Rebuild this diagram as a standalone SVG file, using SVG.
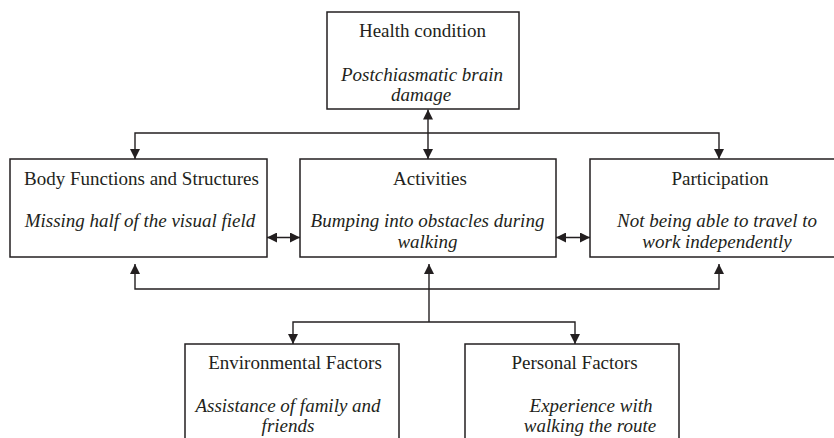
<svg xmlns="http://www.w3.org/2000/svg" width="834" height="438" viewBox="0 0 834 438">
<style>
.box{fill:#fff;stroke:#231f20;stroke-width:1.5}
.t{font-family:"Liberation Serif","Times New Roman",serif;font-size:19px;fill:#231f20;text-anchor:middle}
.i{font-style:italic}
.c{fill:none;stroke:#231f20;stroke-width:1.4}
</style>
<defs>
<marker id="ah" viewBox="0 0 10 10" refX="10" refY="5" markerWidth="10" markerHeight="10" markerUnits="userSpaceOnUse" orient="auto-start-reverse">
<path d="M0,0 L10,5 L0,10 z" fill="#231f20"/>
</marker>
</defs>
<rect width="834" height="438" fill="#fff"/>
<g id="health">
<rect class="box" x="327" y="12" width="192" height="97"/>
<text class="t" x="422.5" y="37">Health condition</text>
<text class="t i" x="422" y="81">Postchiasmatic brain</text>
<text class="t i" x="421" y="101">damage</text>
</g>
<g id="body">
<rect class="box" x="10" y="159" width="257" height="98"/>
<text class="t" x="141.5" y="185">Body Functions and Structures</text>
<text class="t i" x="140" y="227">Missing half of the visual field</text>
</g>
<g id="activities">
<rect class="box" x="300" y="159" width="256" height="98"/>
<text class="t" x="430" y="185">Activities</text>
<text class="t i" x="427.5" y="227">Bumping into obstacles during</text>
<text class="t i" x="427.5" y="248">walking</text>
</g>
<g id="participation">
<rect class="box" x="590" y="159" width="262" height="98"/>
<text class="t" x="720" y="185">Participation</text>
<text class="t i" x="717" y="227">Not being able to travel to</text>
<text class="t i" x="717" y="248">work independently</text>
</g>
<g id="environmental">
<rect class="box" x="185" y="344" width="214" height="110"/>
<text class="t" x="295" y="369">Environmental Factors</text>
<text class="t i" x="288" y="412">Assistance of family and</text>
<text class="t i" x="288" y="432">friends</text>
</g>
<g id="personal">
<rect class="box" x="465" y="344" width="214" height="110"/>
<text class="t" x="574.5" y="369">Personal Factors</text>
<text class="t i" x="591" y="412">Experience with</text>
<text class="t i" x="590" y="432">walking the route</text>
</g>
<g id="connectors">
<line class="c" x1="428" y1="109.5" x2="428" y2="159" marker-start="url(#ah)" marker-end="url(#ah)"/>
<path class="c" d="M135,159 V133 H719 V159" marker-start="url(#ah)" marker-end="url(#ah)"/>
<line class="c" x1="267" y1="237.5" x2="300" y2="237.5" marker-start="url(#ah)" marker-end="url(#ah)"/>
<line class="c" x1="556" y1="237.5" x2="590" y2="237.5" marker-start="url(#ah)" marker-end="url(#ah)"/>
<path class="c" d="M135,264 V289 H719 V264" marker-start="url(#ah)" marker-end="url(#ah)"/>
<line class="c" x1="429" y1="322" x2="429" y2="264" marker-end="url(#ah)"/>
<path class="c" d="M293,344 V322 H575 V344" marker-start="url(#ah)" marker-end="url(#ah)"/>
</g>
</svg>
